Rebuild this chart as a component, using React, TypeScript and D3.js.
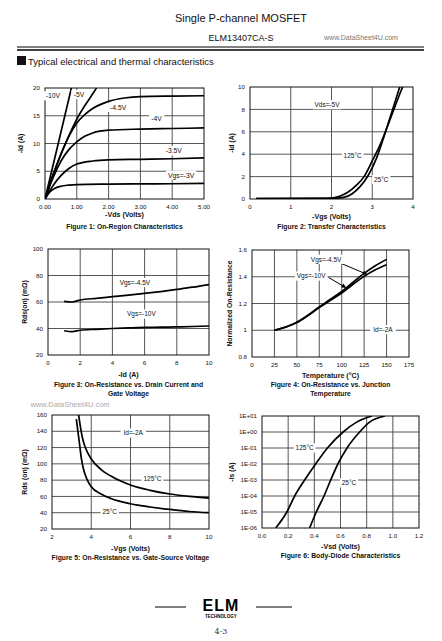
import React from 'react';
import * as d3 from 'd3';

const FONT = '"Liberation Sans", Arial, Helvetica, sans-serif';

type Pt = [number, number];

// ---------- Figure 1: On-Region Characteristics ----------
const fig1XTicks = [0, 1, 2, 3, 4, 5];
const fig1YTicks = [0, 5, 10, 15, 20];
const fig1Vgs10: Pt[] = [[0, 0], [0.42, 10.1], [0.83, 20]];
const fig1Vgs5: Pt[] = [[0, 0], [0.25, 4.3], [0.5, 8.1], [0.75, 11.4], [1, 14.4], [1.25, 16.8], [1.45, 18.5], [1.62, 20]];
const fig1Vgs45: Pt[] = [[0, 0], [0.25, 4.3], [0.5, 8.0], [0.75, 11.3], [1, 13.7], [1.25, 15.2], [1.5, 16.3], [2, 17.6], [2.5, 18.2], [3, 18.45], [4, 18.55], [5, 18.6]];
const fig1Vgs4: Pt[] = [[0, 0], [0.25, 3.8], [0.5, 6.8], [0.75, 8.9], [1, 10.3], [1.25, 11.3], [1.5, 11.9], [2, 12.4], [3, 12.6], [4, 12.7], [5, 12.8]];
const fig1Vgs35: Pt[] = [[0, 0], [0.25, 2.4], [0.5, 4.2], [0.75, 5.5], [1, 6.3], [1.5, 6.85], [2, 7.05], [3, 7.15], [4, 7.25], [5, 7.4]];
const fig1Vgs3: Pt[] = [[0, 0], [0.1, 0.9], [0.2, 1.5], [0.3, 1.9], [0.5, 2.3], [0.75, 2.5], [1, 2.6], [2, 2.68], [3, 2.72], [4, 2.75], [5, 2.8]];
const fig1LabelText = ['-10V', '-5V', '-4.5V', '-4V', '-3.5V', 'Vgs=-3V'];
const fig1LabelPos: Pt[] = [[0.25, 18.6], [1.07, 18.8], [2.3, 16.5], [3.51, 14.5], [4.05, 8.7], [4.28, 4.3]];

// ---------- Figure 2: Transfer Characteristics ----------
const fig2XTicks = [0, 1, 2, 3, 4];
const fig2YTicks = [0, 2, 4, 6, 8, 10];
const fig2T125: Pt[] = [[0.15, 0.03], [1.9, 0.06], [2.2, 0.25], [2.4, 0.6], [2.6, 1.2], [2.8, 2.0], [3.0, 3.4], [3.2, 4.9], [3.3, 5.8], [3.5, 7.7], [3.7, 9.6], [3.78, 10.3]];
const fig2T25: Pt[] = [[0.15, 0.03], [2.0, 0.06], [2.3, 0.15], [2.5, 0.45], [2.7, 1.1], [2.9, 2.1], [3.1, 3.6], [3.3, 5.7], [3.5, 8.0], [3.7, 10.3]];
const fig2LabelText = ['Vds=-5V', '125°C', '25°C'];
const fig2LabelPos: Pt[] = [[1.89, 8.42], [2.52, 3.9], [3.22, 1.73]];

// ---------- Figure 3: On-Resistance vs Drain Current ----------
const fig3XTicks = [0, 2, 4, 6, 8, 10];
const fig3YTicks = [20, 40, 60, 80, 100];
const fig3Vgs45: Pt[] = [[1, 60.4], [1.5, 60], [2, 61.5], [3, 62.8], [4, 64], [5, 65.2], [6, 66.5], [7, 67.9], [8, 69.5], [9, 71.2], [10, 73.2]];
const fig3Vgs10: Pt[] = [[1, 38.3], [1.5, 37.6], [2, 38.7], [3, 39.4], [4, 40], [5, 40.4], [6, 40.8], [7, 41], [8, 41.2], [9, 41.5], [10, 41.9]];
const fig3LabelText = ['Vgs=-4.5V', 'Vgs=-10V'];
const fig3LabelPos: Pt[] = [[5.4, 74.7], [5.8, 50.9]];

// ---------- Figure 4: On-Resistance vs Junction Temperature ----------
const fig4XTicks = [0, 25, 50, 75, 100, 125, 150, 175];
const fig4YTicks = [0.8, 1.0, 1.2, 1.4, 1.6];
const fig4Vgs45: Pt[] = [[25, 1.0], [40, 1.03], [50, 1.06], [62, 1.11], [75, 1.175], [87, 1.23], [100, 1.29], [112, 1.355], [125, 1.425], [137, 1.48], [150, 1.53]];
const fig4Vgs10: Pt[] = [[25, 1.0], [40, 1.03], [50, 1.058], [62, 1.108], [75, 1.17], [87, 1.222], [100, 1.278], [112, 1.34], [125, 1.403], [137, 1.45], [150, 1.49]];
const fig4LabelText = ['Vgs=-4.5V', 'Vgs=-10V', 'Id=-2A'];
const fig4LabelPos: Pt[] = [[82.6, 1.53], [65.9, 1.405], [146, 1.005]];
const fig4ArrowFrom: Pt[] = [[97.5, 1.505], [85.3, 1.395]];
const fig4ArrowTo: Pt[] = [[128.4, 1.4175], [105, 1.3175]];

// ---------- Figure 5: On-Resistance vs Gate-Source Voltage ----------
const fig5XTicks = [2, 4, 6, 8, 10];
const fig5YTicks = [20, 40, 60, 80, 100, 120, 140, 160];
const fig5T125: Pt[] = [[3.36, 160], [3.45, 145], [3.55, 132], [3.7, 120], [4, 106], [4.5, 93], [5, 85], [6, 74], [7, 67.5], [8, 63], [9, 60], [10, 58]];
const fig5T25: Pt[] = [[3.24, 155], [3.32, 140], [3.4, 125], [3.5, 106], [3.6, 94], [3.8, 80], [4, 72], [4.5, 63], [5, 57.5], [6, 51], [7, 47], [8, 44], [9, 41.5], [10, 40]];
const fig5LabelText = ['Id=-2A', '125°C', '25°C'];
const fig5LabelPos: Pt[] = [[6.14, 137.8], [7.12, 81.6], [4.94, 41.4]];

// ---------- Figure 6: Body-Diode Characteristics ----------
const fig6XTicks = [0, 0.2, 0.4, 0.6, 0.8, 1.0, 1.2];
const fig6YTicks = [1e-6, 1e-5, 1e-4, 1e-3, 1e-2, 1e-1, 1, 10];
const fig6YTickLabels = ['1E-06', '1E-05', '1E-04', '1E-03', '1E-02', '1E-01', '1E+00', '1E+01'];
const fig6T125: Pt[] = [[0.105, 1e-6], [0.19, 1e-5], [0.25, 1e-4], [0.326, 1e-3], [0.41, 1e-2], [0.5, 1e-1], [0.62, 1], [0.72, 4], [0.84, 10]];
const fig6T25: Pt[] = [[0.364, 1e-6], [0.415, 1e-5], [0.474, 1e-4], [0.525, 1e-3], [0.58, 1e-2], [0.65, 1e-1], [0.746, 1], [0.82, 4], [0.94, 10]];
const fig6LabelText = ['125°C', '25°C'];
const fig6LabelPos: Pt[] = [[0.326, 0.1], [0.665, 6.6e-4]];

type ChartProps = {
  id: string;
  box: [number, number, number, number];
  xDomain: [number, number];
  yDomain: [number, number];
  yLog?: boolean;
  xTicks: number[];
  yTicks: number[];
  xFmt: (v: number) => string;
  yFmt: (v: number, i: number) => string;
  series: Pt[][];
  labels: { text: string; pos: Pt }[];
  labelSize?: number;
  arrows?: { from: Pt; to: Pt }[];
  xTitle: string;
  xTitleY: number;
  yTitle: string;
  yTitleX: number;
  caption: string[];
  captionY: number;
};

function Chart(p: ChartProps) {
  const [x0, x1, y0, y1] = p.box;
  const xs = d3.scaleLinear().domain(p.xDomain).range([x0, x1]);
  const ys = p.yLog
    ? d3.scaleLog().domain(p.yDomain).range([y1, y0])
    : d3.scaleLinear().domain(p.yDomain).range([y1, y0]);
  const line = d3
    .line<Pt>()
    .x((d) => xs(d[0]))
    .y((d) => ys(d[1]))
    .curve(d3.curveMonotoneX);
  const cx = (x0 + x1) / 2;
  const cy = (y0 + y1) / 2;
  const fs = 6.2;
  const ls = p.labelSize || 6.5;
  return (
    <g>
      <defs>
        <clipPath id={`clip-${p.id}`}>
          <rect x={x0} y={y0} width={x1 - x0} height={y1 - y0} />
        </clipPath>
      </defs>
      <rect x={x0} y={y0} width={x1 - x0} height={y1 - y0} fill="#fff" />
      {p.xTicks.slice(1, -1).map((t, i) => (
        <line key={'gx' + i} x1={xs(t)} x2={xs(t)} y1={y0} y2={y1} stroke="#444" strokeWidth={0.9} />
      ))}
      {p.yTicks.slice(1, -1).map((t, i) => (
        <line key={'gy' + i} x1={x0} x2={x1} y1={ys(t)} y2={ys(t)} stroke="#444" strokeWidth={0.9} />
      ))}
      <rect x={x0} y={y0} width={x1 - x0} height={y1 - y0} fill="none" stroke="#111" strokeWidth={1} />
      <g clipPath={`url(#clip-${p.id})`}>
        {p.series.map((s, i) => (
          <path key={'s' + i} d={line(s) || ''} fill="none" stroke="#000" strokeWidth={1.7} strokeLinejoin="round" />
        ))}
      </g>
      {(p.arrows || []).map((a, i) => {
        const ax = xs(a.from[0]), ay = ys(a.from[1]), bx = xs(a.to[0]), by = ys(a.to[1]);
        const ang = Math.atan2(by - ay, bx - ax);
        const h = 4.5, w = 2.2;
        const pts = [
          [bx, by],
          [bx - h * Math.cos(ang) + w * Math.sin(ang), by - h * Math.sin(ang) - w * Math.cos(ang)],
          [bx - h * Math.cos(ang) - w * Math.sin(ang), by - h * Math.sin(ang) + w * Math.cos(ang)],
        ];
        return (
          <g key={'a' + i}>
            <line x1={ax} y1={ay} x2={bx} y2={by} stroke="#000" strokeWidth={1} />
            <polygon points={pts.map((q) => q.join(',')).join(' ')} fill="#000" />
          </g>
        );
      })}
      {p.labels.map((l, i) => {
        const w = l.text.length * ls * 0.55 + 4;
        const lx = xs(l.pos[0]);
        const ly = ys(l.pos[1]);
        return (
          <g key={'l' + i}>
            <rect x={lx - w / 2} y={ly - 4.6} width={w} height={9.2} fill="#fff" />
            <text x={lx} y={ly + ls * 0.36} fontSize={ls} textAnchor="middle" fontFamily={FONT} fill="#111">
              {l.text}
            </text>
          </g>
        );
      })}
      {p.xTicks.map((t, i) => (
        <text key={'xt' + i} x={xs(t)} y={y1 + 10} fontSize={fs} textAnchor="middle" fontFamily={FONT} fill="#111">
          {p.xFmt(t)}
        </text>
      ))}
      {p.yTicks.map((t, i) => (
        <text key={'yt' + i} x={x0 - 5} y={ys(t) + 2.2} fontSize={fs} textAnchor="end" fontFamily={FONT} fill="#111">
          {p.yFmt(t, i)}
        </text>
      ))}
      <text x={cx} y={p.xTitleY} fontSize={7.1} fontWeight="bold" textAnchor="middle" fontFamily={FONT} fill="#111">
        {p.xTitle}
      </text>
      <text
        transform={`translate(${p.yTitleX},${cy}) rotate(-90)`}
        fontSize={6.8}
        fontWeight="bold"
        textAnchor="middle"
        fontFamily={FONT}
        fill="#111"
      >
        {p.yTitle}
      </text>
      {p.caption.map((c, i) => (
        <text key={'c' + i} x={cx} y={p.captionY + i * 8.5} fontSize={6.8} fontWeight="bold" textAnchor="middle" fontFamily={FONT} fill="#111">
          {c}
        </text>
      ))}
    </g>
  );
}

const mk = (texts: string[], pos: Pt[]) => texts.map((t, i) => ({ text: t, pos: pos[i] }));

export default function App() {
  return (
    <svg
      width={442}
      height={641}
      style={{ position: 'absolute', left: 0, top: 0, background: '#fff' }}
      xmlns="http://www.w3.org/2000/svg"
    >
      <rect x={0} y={0} width={442} height={641} fill="#fff" />
      {/* Header */}
      <text x={241} y={22} fontSize={11} textAnchor="middle" fontFamily={FONT} fill="#111">
        Single P-channel MOSFET
      </text>
      <text x={241} y={41} fontSize={9} textAnchor="middle" fontFamily={FONT} fill="#111">
        ELM13407CA-S
      </text>
      <text x={361} y={40} fontSize={7} textAnchor="middle" fontFamily={FONT} fill="#777">
        www.DataSheet4U.com
      </text>
      <line x1={17} x2={424} y1={47} y2={47} stroke="#000" strokeWidth={1} />
      <line x1={17} x2={424} y1={50} y2={50} stroke="#000" strokeWidth={1.4} />
      <rect x={17} y={56} width={9} height={9} fill="#111" />
      <text x={28} y={64.5} fontSize={9.5} fontFamily={FONT} fill="#111">
        Typical electrical and thermal characteristics
      </text>

      <Chart
        id="f1"
        box={[45, 204, 88, 199]}
        xDomain={[0, 5]}
        yDomain={[0, 20]}
        xTicks={fig1XTicks}
        yTicks={fig1YTicks}
        xFmt={(v) => v.toFixed(2)}
        yFmt={(v) => String(v)}
        series={[fig1Vgs10, fig1Vgs5, fig1Vgs45, fig1Vgs4, fig1Vgs35, fig1Vgs3]}
        labels={mk(fig1LabelText, fig1LabelPos)}
        labelSize={6.8}
        xTitle="-Vds (Volts)"
        xTitleY={217}
        yTitle="-Id (A)"
        yTitleX={23}
        caption={['Figure 1: On-Region Characteristics']}
        captionY={229}
      />
      <Chart
        id="f2"
        box={[250, 413, 87, 199]}
        xDomain={[0, 4]}
        yDomain={[0, 10]}
        xTicks={fig2XTicks}
        yTicks={fig2YTicks}
        xFmt={(v) => String(v)}
        yFmt={(v) => String(v)}
        series={[fig2T125, fig2T25]}
        labels={mk(fig2LabelText, fig2LabelPos)}
        xTitle="-Vgs (Volts)"
        xTitleY={219}
        yTitle="-Id (A)"
        yTitleX={234}
        caption={['Figure 2: Transfer Characteristics']}
        captionY={228.5}
      />
      <Chart
        id="f3"
        box={[48, 209, 249, 355]}
        xDomain={[0, 10]}
        yDomain={[20, 100]}
        xTicks={fig3XTicks}
        yTicks={fig3YTicks}
        xFmt={(v) => String(v)}
        yFmt={(v) => String(v)}
        series={[fig3Vgs45, fig3Vgs10]}
        labels={mk(fig3LabelText, fig3LabelPos)}
        xTitle="-Id (A)"
        xTitleY={377}
        yTitle="Rds(on) (mΩ)"
        yTitleX={27}
        caption={['Figure 3: On-Resistance vs. Drain Current and', 'Gate Voltage']}
        captionY={387}
      />
      <Chart
        id="f4"
        box={[252, 409, 250, 357]}
        xDomain={[0, 175]}
        yDomain={[0.8, 1.6]}
        xTicks={fig4XTicks}
        yTicks={fig4YTicks}
        xFmt={(v) => String(v)}
        yFmt={(v) => (Math.abs(v - 1) < 1e-9 ? '1' : v.toFixed(1))}
        series={[fig4Vgs45, fig4Vgs10]}
        labels={mk(fig4LabelText, fig4LabelPos)}
        arrows={fig4ArrowFrom.map((f, i) => ({ from: f, to: fig4ArrowTo[i] }))}
        xTitle="Temperature (°C)"
        xTitleY={378}
        yTitle="Normalized On-Resistance"
        yTitleX={232}
        caption={['Figure 4: On-Resistance vs. Junction', 'Temperature']}
        captionY={387}
      />
      <text x={70} y={407} fontSize={7.5} textAnchor="middle" fontFamily={FONT} fill="#aaa">
        www.DataSheet4U.com
      </text>
      <Chart
        id="f5"
        box={[52, 209, 415, 529]}
        xDomain={[2, 10]}
        yDomain={[20, 160]}
        xTicks={fig5XTicks}
        yTicks={fig5YTicks}
        xFmt={(v) => String(v)}
        yFmt={(v) => String(v)}
        series={[fig5T125, fig5T25]}
        labels={mk(fig5LabelText, fig5LabelPos)}
        xTitle="-Vgs (Volts)"
        xTitleY={551}
        yTitle="Rds (on) (mΩ)"
        yTitleX={27}
        caption={['Figure 5: On-Resistance vs. Gate-Source Voltage']}
        captionY={560}
      />
      <Chart
        id="f6"
        box={[262, 419, 416, 528]}
        xDomain={[0, 1.2]}
        yDomain={[1e-6, 10]}
        yLog
        xTicks={fig6XTicks}
        yTicks={fig6YTicks}
        xFmt={(v) => v.toFixed(1)}
        yFmt={(_v, i) => fig6YTickLabels[i]}
        series={[fig6T125, fig6T25]}
        labels={mk(fig6LabelText, fig6LabelPos)}
        xTitle="-Vsd (Volts)"
        xTitleY={549}
        yTitle="-Is (A)"
        yTitleX={234}
        caption={['Figure 6: Body-Diode Characteristics']}
        captionY={558}
      />

      {/* Footer */}
      <line x1={155} x2={186} y1={607} y2={607} stroke="#000" strokeWidth={1} />
      <line x1={256} x2={292} y1={607} y2={607} stroke="#000" strokeWidth={1} />
      <text x={221} y={611} fontSize={16} fontWeight="bold" textAnchor="middle" fontFamily={FONT} fill="#000" letterSpacing={1}>
        ELM
      </text>
      <text x={221} y={618} fontSize={4.5} fontWeight="bold" textAnchor="middle" fontFamily={FONT} fill="#000">
        TECHNOLOGY
      </text>
      <text x={221} y={634} fontSize={8} textAnchor="middle" fontFamily="'DejaVu Serif', serif" fill="#333">
        4-3
      </text>
    </svg>
  );
}
